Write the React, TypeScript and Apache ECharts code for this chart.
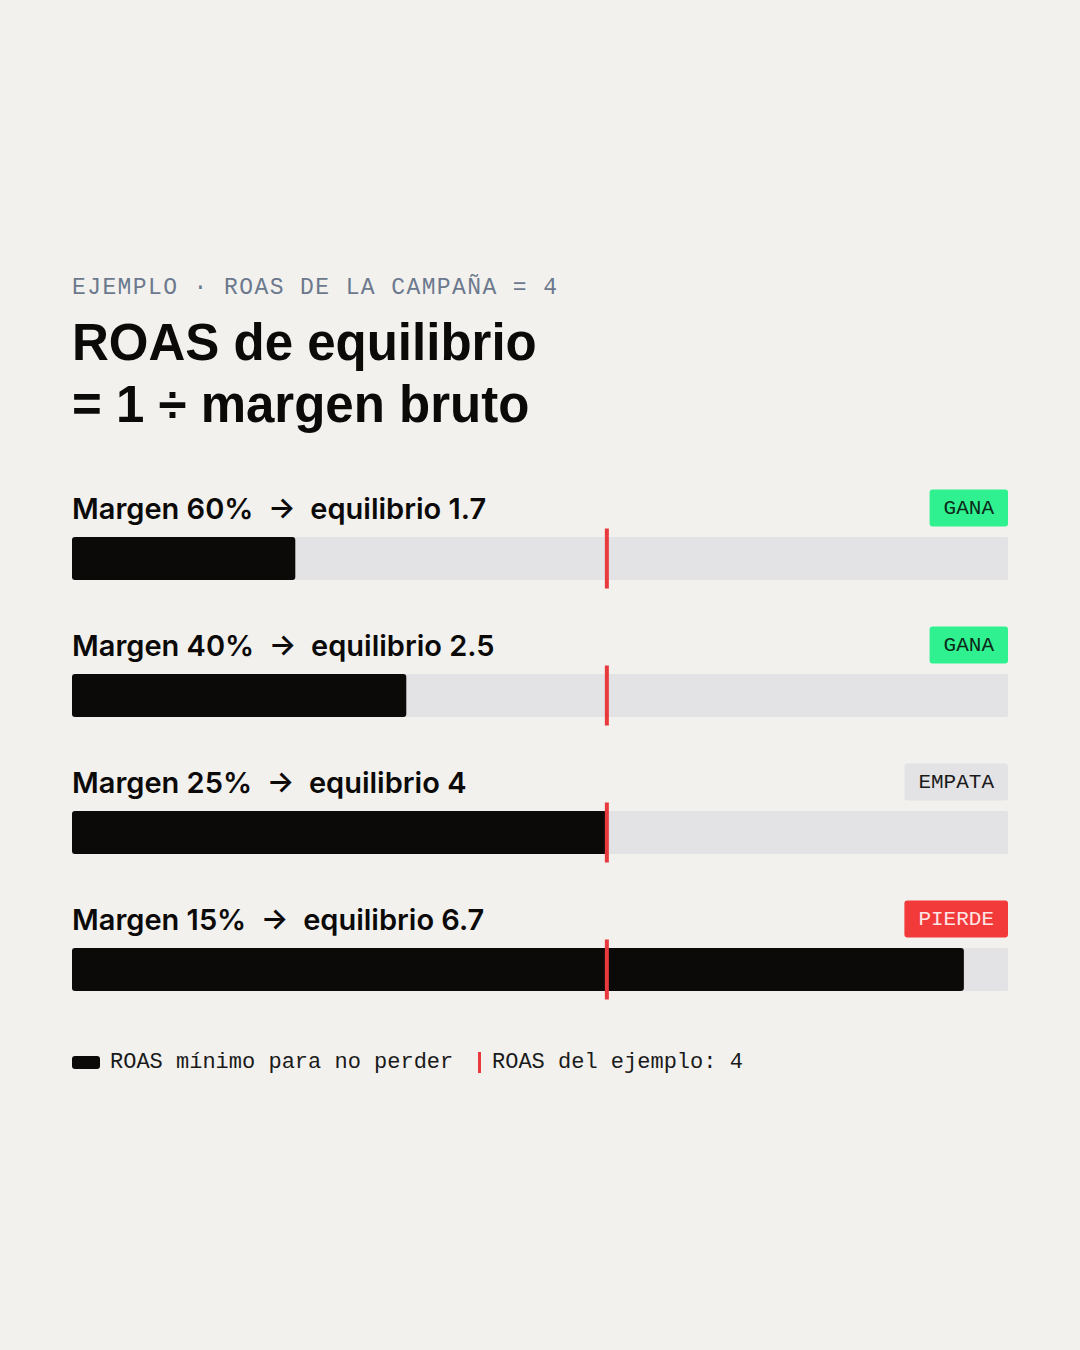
import React, { useEffect, useRef } from "react";
import * as echarts from "echarts";

// ---- data ----
const margins = [60, 40, 25, 15];
const breakEven = [1.67, 2.5, 4, 6.67];
const breakEvenLabels = ["1.7", "2.5", "4", "6.7"];
const verdicts = ["GANA", "GANA", "EMPATA", "PIERDE"];
const campaignRoas = 4;
const axisMax = 7;

const subtitle = "EJEMPLO · ROAS DE LA CAMPAÑA = 4";
const titleLines = ["ROAS de equilibrio", "= 1 ÷ margen bruto"];
const legendBar = "ROAS mínimo para no perder";
const legendLine = "ROAS del ejemplo: 4";

// ---- style ----
const BG = "#F2F1EE";
const TRACK = "#E3E3E6";
const INK = "#0B0A09";
const RED = "#E83A3D";
const MONO = '"Liberation Mono", "DejaVu Sans Mono", monospace';
const TITLE_FONT = '"Liberation Sans", Arial, sans-serif';
const LABEL_FONT = 'Inter, "Noto Sans", sans-serif';

const LEFT = 72;
const WIDTH = 936;
const BAR_TOP = 537;
const ROW_STEP = 137;
const BAR_H = 43;

const badgeColors: Record<string, { bg: string; fg: string }> = {
  GANA: { bg: "#30F18F", fg: "#0C2A1A" },
  EMPATA: { bg: "#E3E3E6", fg: "#1A1A1A" },
  PIERDE: { bg: "#F23A3A", fg: "#FFE6E6" },
};

export default function App() {
  const ref = useRef<HTMLDivElement>(null);

  useEffect(() => {
    document.body.style.margin = "0";
    const el = ref.current!;
    const chart = echarts.init(el, null, { renderer: "svg" });

    const grids = margins.map((_, i) => ({
      left: LEFT,
      width: WIDTH,
      top: BAR_TOP + ROW_STEP * i,
      height: BAR_H,
    }));
    const xAxes = margins.map((_, i) => ({
      gridIndex: i,
      type: "value",
      min: 0,
      max: axisMax,
      show: false,
    }));
    const yAxes = margins.map((m, i) => ({
      gridIndex: i,
      type: "category",
      data: [`Margen ${m}%`],
      show: false,
    }));
    const series: any[] = [];
    margins.forEach((m, i) => {
      series.push({
        type: "bar",
        name: legendBar,
        xAxisIndex: i,
        yAxisIndex: i,
        data: [breakEven[i]],
        barWidth: "100%",
        showBackground: true,
        backgroundStyle: { color: TRACK, borderRadius: 2 },
        itemStyle: { color: INK, borderRadius: 3 },
        silent: true,
        z: 2,
      });
      series.push({
        type: "scatter",
        name: legendLine,
        xAxisIndex: i,
        yAxisIndex: i,
        data: [[campaignRoas, 0]],
        symbol: "rect",
        symbolSize: [4, 60],
        itemStyle: { color: RED, opacity: 1 },
        silent: true,
        z: 5,
      });
    });

    const graphics: any[] = [];
    graphics.push({
      type: "text",
      x: LEFT,
      y: 288,
      style: {
        text: subtitle,
        font: `23px ${MONO}`,
        fill: "#6C798D",
        verticalAlign: "middle",
        textVerticalAlign: "middle",
      },
    });
    titleLines.forEach((t, k) => {
      graphics.push({
        type: "text",
        x: LEFT,
        y: 342 + 62 * k,
        style: {
          text: t,
          font: `700 51px ${TITLE_FONT}`,
          fill: INK,
          verticalAlign: "middle",
          textVerticalAlign: "middle",
        },
      });
    });
    margins.forEach((m, i) => {
      const cy = 508 + ROW_STEP * i;
      graphics.push({
        type: "text",
        x: LEFT,
        y: cy,
        style: {
          text: `Margen ${m}%  →  equilibrio ${breakEvenLabels[i]}`,
          font: `600 29px ${LABEL_FONT}`,
          fill: INK,
          verticalAlign: "middle",
          textVerticalAlign: "middle",
        },
      });
      const c = badgeColors[verdicts[i]];
      graphics.push({
        type: "text",
        x: LEFT + WIDTH,
        y: cy,
        style: {
          text: verdicts[i],
          font: `21px ${MONO}`,
          fill: c.fg,
          align: "right",
          textAlign: "right",
          verticalAlign: "middle",
          textVerticalAlign: "middle",
          backgroundColor: c.bg,
          padding: [8, 14, 8, 14],
          borderRadius: 3,
        },
      });
    });
    // legend
    graphics.push({
      type: "rect",
      shape: { x: LEFT, y: 1056, width: 28, height: 13, r: 3 },
      style: { fill: INK },
    });
    graphics.push({
      type: "text",
      x: 110,
      y: 1062,
      style: {
        text: legendBar,
        font: `22px ${MONO}`,
        fill: "#1A1A1A",
        verticalAlign: "middle",
        textVerticalAlign: "middle",
      },
    });
    graphics.push({
      type: "rect",
      shape: { x: 478, y: 1052, width: 3, height: 21 },
      style: { fill: RED },
    });
    graphics.push({
      type: "text",
      x: 492,
      y: 1062,
      style: {
        text: legendLine,
        font: `22px ${MONO}`,
        fill: "#1A1A1A",
        verticalAlign: "middle",
        textVerticalAlign: "middle",
      },
    });

    chart.setOption({
      animation: false,
      backgroundColor: BG,
      grid: grids,
      xAxis: xAxes,
      yAxis: yAxes,
      series,
      graphic: { elements: graphics },
    });

    return () => chart.dispose();
  }, []);

  return (
    <>
      <style>{`#roas-chart svg text[style*="23px"] { letter-spacing: 1.4px; }`}</style>
      <div id="roas-chart" ref={ref} style={{ width: 1080, height: 1350, background: BG }} />
    </>
  );
}
